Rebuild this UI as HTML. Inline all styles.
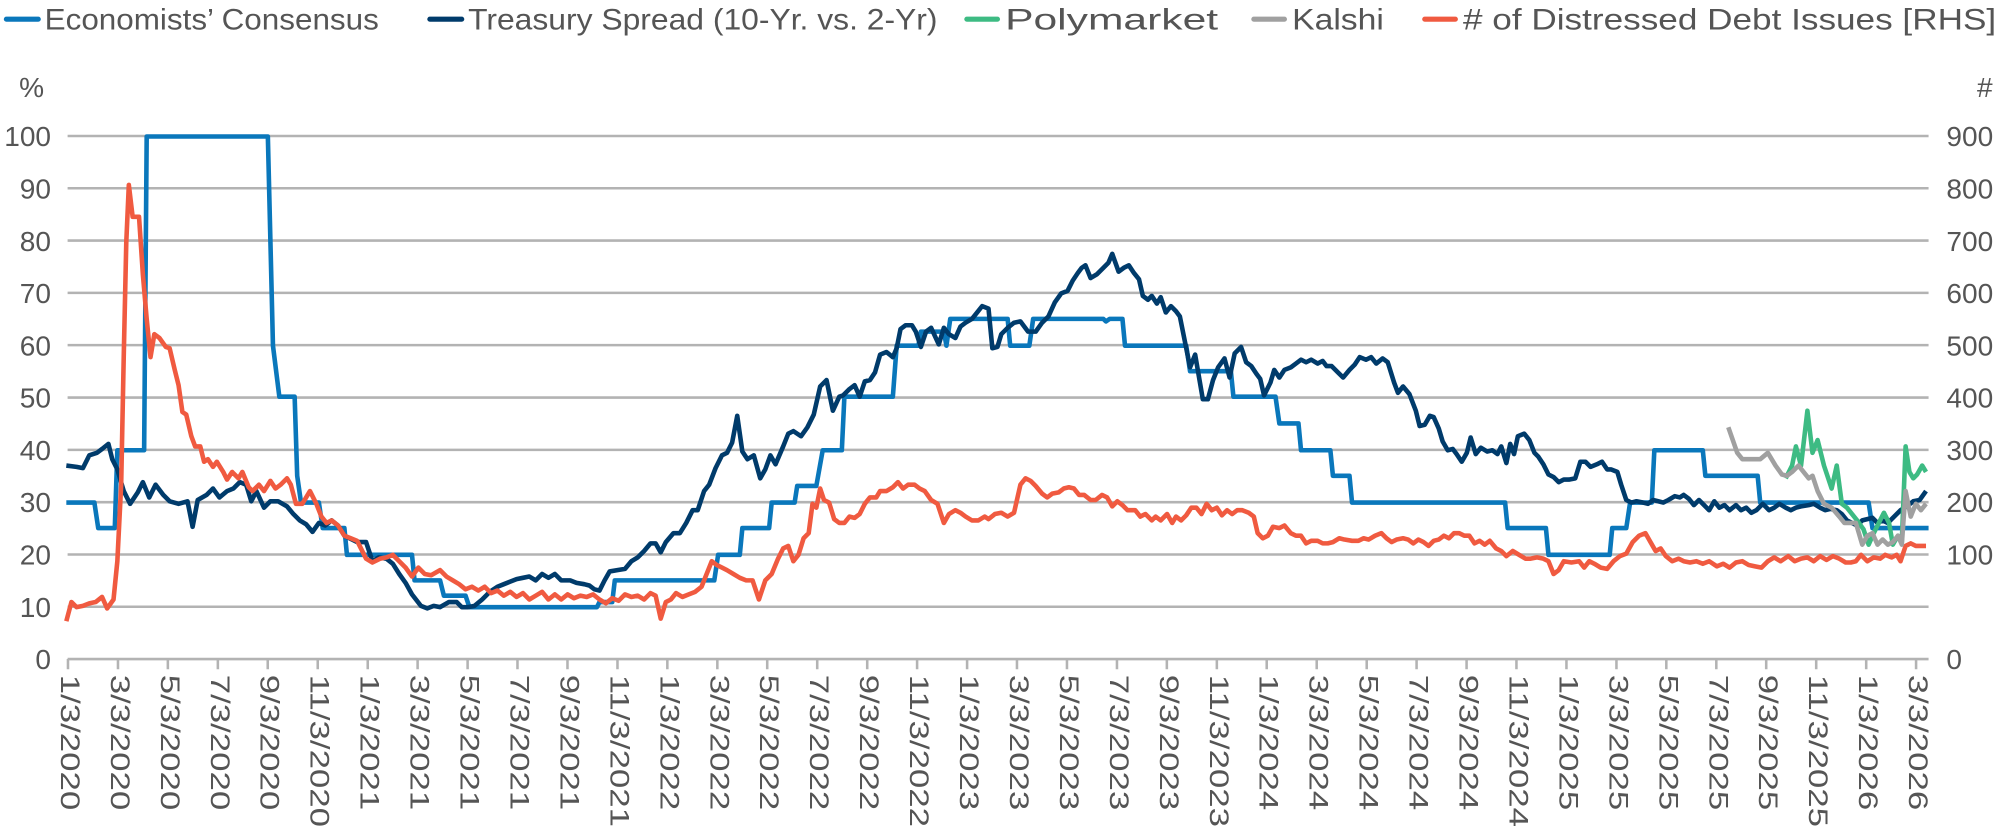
<!DOCTYPE html>
<html><head><meta charset="utf-8"><style>
html,body{margin:0;padding:0;background:#fff;}
svg{display:block;}
text{font-family:"Liberation Sans",sans-serif;fill:#555;}
</style></head><body>
<svg width="2000" height="837" viewBox="0 0 1568 656.2" xmlns="http://www.w3.org/2000/svg">
<g font-size="23">
<line x1="5" y1="15" x2="30" y2="15" stroke="#0a77bb" stroke-width="4" stroke-linecap="round"/><text x="35" y="23" textLength="262" lengthAdjust="spacingAndGlyphs">Economists’ Consensus</text>
<line x1="337" y1="15" x2="362" y2="15" stroke="#003b6b" stroke-width="4" stroke-linecap="round"/><text x="367" y="23" textLength="368" lengthAdjust="spacingAndGlyphs">Treasury Spread (10-Yr. vs. 2-Yr)</text>
<line x1="758" y1="15" x2="782" y2="15" stroke="#3dbb83" stroke-width="4" stroke-linecap="round"/><text x="788" y="23" textLength="167" lengthAdjust="spacingAndGlyphs">Polymarket</text>
<line x1="983" y1="15" x2="1007" y2="15" stroke="#a0a0a0" stroke-width="4" stroke-linecap="round"/><text x="1013" y="23" textLength="72" lengthAdjust="spacingAndGlyphs">Kalshi</text>
<line x1="1117" y1="15" x2="1141" y2="15" stroke="#f05a40" stroke-width="4" stroke-linecap="round"/><text x="1147" y="23" textLength="418" lengthAdjust="spacingAndGlyphs"># of Distressed Debt Issues [RHS]</text>
</g>
<g font-size="22">
<text x="15" y="76">%</text><text x="1550" y="76">#</text>
<g text-anchor="end">
<text x="40" y="114.6">100</text><text x="40" y="155.6">90</text><text x="40" y="196.6">80</text><text x="40" y="237.6">70</text><text x="40" y="278.6">60</text><text x="40" y="319.6">50</text><text x="40" y="360.6">40</text><text x="40" y="401.6">30</text><text x="40" y="442.6">20</text><text x="40" y="483.6">10</text><text x="40" y="524.6">0</text>
</g>
<text x="1526" y="114.6">900</text><text x="1526" y="155.6">800</text><text x="1526" y="196.6">700</text><text x="1526" y="237.6">600</text><text x="1526" y="278.6">500</text><text x="1526" y="319.6">400</text><text x="1526" y="360.6">300</text><text x="1526" y="401.6">200</text><text x="1526" y="442.6">100</text><text x="1526" y="524.6">0</text>
</g>
<g stroke="#b3b3b3" stroke-width="2">
<line x1="53" y1="106.6" x2="1512" y2="106.6"/><line x1="53" y1="147.6" x2="1512" y2="147.6"/><line x1="53" y1="188.6" x2="1512" y2="188.6"/><line x1="53" y1="229.6" x2="1512" y2="229.6"/><line x1="53" y1="270.6" x2="1512" y2="270.6"/><line x1="53" y1="311.7" x2="1512" y2="311.7"/><line x1="53" y1="352.7" x2="1512" y2="352.7"/><line x1="53" y1="393.7" x2="1512" y2="393.7"/><line x1="53" y1="434.7" x2="1512" y2="434.7"/><line x1="53" y1="475.7" x2="1512" y2="475.7"/><line x1="53" y1="516.7" x2="1512" y2="516.7"/>
</g>
<path stroke="#b3b3b3" stroke-width="2" fill="none" d="M53.3 516.7v8M92.5 516.7v8M131.6 516.7v8M170.8 516.7v8M209.9 516.7v8M249.1 516.7v8M288.3 516.7v8M327.4 516.7v8M366.6 516.7v8M405.7 516.7v8M444.9 516.7v8M484.1 516.7v8M523.2 516.7v8M562.4 516.7v8M601.5 516.7v8M640.7 516.7v8M679.9 516.7v8M719 516.7v8M758.2 516.7v8M797.3 516.7v8M836.5 516.7v8M875.7 516.7v8M914.8 516.7v8M954 516.7v8M993.1 516.7v8M1032.3 516.7v8M1071.5 516.7v8M1110.6 516.7v8M1149.8 516.7v8M1188.9 516.7v8M1228.1 516.7v8M1267.3 516.7v8M1306.4 516.7v8M1345.6 516.7v8M1384.7 516.7v8M1423.9 516.7v8M1463.1 516.7v8M1502.2 516.7v8"/>
<g font-size="21" dominant-baseline="middle">
<text transform="translate(53.3,529) rotate(90) scale(1.3,1)">1/3/2020</text>
<text transform="translate(92.5,529) rotate(90) scale(1.3,1)">3/3/2020</text>
<text transform="translate(131.6,529) rotate(90) scale(1.3,1)">5/3/2020</text>
<text transform="translate(170.8,529) rotate(90) scale(1.3,1)">7/3/2020</text>
<text transform="translate(209.9,529) rotate(90) scale(1.3,1)">9/3/2020</text>
<text transform="translate(249.1,529) rotate(90) scale(1.3,1)">11/3/2020</text>
<text transform="translate(288.3,529) rotate(90) scale(1.3,1)">1/3/2021</text>
<text transform="translate(327.4,529) rotate(90) scale(1.3,1)">3/3/2021</text>
<text transform="translate(366.6,529) rotate(90) scale(1.3,1)">5/3/2021</text>
<text transform="translate(405.7,529) rotate(90) scale(1.3,1)">7/3/2021</text>
<text transform="translate(444.9,529) rotate(90) scale(1.3,1)">9/3/2021</text>
<text transform="translate(484.1,529) rotate(90) scale(1.3,1)">11/3/2021</text>
<text transform="translate(523.2,529) rotate(90) scale(1.3,1)">1/3/2022</text>
<text transform="translate(562.4,529) rotate(90) scale(1.3,1)">3/3/2022</text>
<text transform="translate(601.5,529) rotate(90) scale(1.3,1)">5/3/2022</text>
<text transform="translate(640.7,529) rotate(90) scale(1.3,1)">7/3/2022</text>
<text transform="translate(679.9,529) rotate(90) scale(1.3,1)">9/3/2022</text>
<text transform="translate(719,529) rotate(90) scale(1.3,1)">11/3/2022</text>
<text transform="translate(758.2,529) rotate(90) scale(1.3,1)">1/3/2023</text>
<text transform="translate(797.3,529) rotate(90) scale(1.3,1)">3/3/2023</text>
<text transform="translate(836.5,529) rotate(90) scale(1.3,1)">5/3/2023</text>
<text transform="translate(875.7,529) rotate(90) scale(1.3,1)">7/3/2023</text>
<text transform="translate(914.8,529) rotate(90) scale(1.3,1)">9/3/2023</text>
<text transform="translate(954,529) rotate(90) scale(1.3,1)">11/3/2023</text>
<text transform="translate(993.1,529) rotate(90) scale(1.3,1)">1/3/2024</text>
<text transform="translate(1032.3,529) rotate(90) scale(1.3,1)">3/3/2024</text>
<text transform="translate(1071.5,529) rotate(90) scale(1.3,1)">5/3/2024</text>
<text transform="translate(1110.6,529) rotate(90) scale(1.3,1)">7/3/2024</text>
<text transform="translate(1149.8,529) rotate(90) scale(1.3,1)">9/3/2024</text>
<text transform="translate(1188.9,529) rotate(90) scale(1.3,1)">11/3/2024</text>
<text transform="translate(1228.1,529) rotate(90) scale(1.3,1)">1/3/2025</text>
<text transform="translate(1267.3,529) rotate(90) scale(1.3,1)">3/3/2025</text>
<text transform="translate(1306.4,529) rotate(90) scale(1.3,1)">5/3/2025</text>
<text transform="translate(1345.6,529) rotate(90) scale(1.3,1)">7/3/2025</text>
<text transform="translate(1384.7,529) rotate(90) scale(1.3,1)">9/3/2025</text>
<text transform="translate(1423.9,529) rotate(90) scale(1.3,1)">11/3/2025</text>
<text transform="translate(1463.1,529) rotate(90) scale(1.3,1)">1/3/2026</text>
<text transform="translate(1502.2,529) rotate(90) scale(1.3,1)">3/3/2026</text>
</g>
<g fill="none" stroke-width="3.6" stroke-linejoin="round">
<polyline stroke="#0a77bb" points="52,394 74,394 77,414 90,414 92,353 113,353 115,107 210,107 214,271 219,311 231,311 233,373 236,394 250,394 253,414 270,414 272,435 323,435 325,455 345,455 348,467 365,467 368,476 468,476 470,472 480,472 482,455 560,455 563,435 580,435 582,414 603,414 605,394 623,394 625,381 640,381 645,353 660,353 662,311 700,311 703,271 720,271 722,260 740,260 742,271 745,250 790,250 792,271 807,271 810,250 865,250 867,252 870,250 880,250 882,271 930,271 933,291 965,291 967,311 1000,311 1003,332 1018,332 1020,353 1043,353 1045,373 1058,373 1060,394 1180,394 1182,414 1212,414 1214,435 1262,435 1264,414 1275,414 1278,394 1295,394 1297,353 1335,353 1337,373 1378,373 1380,394 1465,394 1468,414 1512,414"/>
<polyline stroke="#003b6b" points="52,365 60,366 65,367 70,357 76,355 80,352 85,348 88,360 92,368 97,385 102,395 108,386 112,378 117,390 122,380 128,388 133,393 140,395 147,393 151,413 155,392 162,388 167,383 172,390 178,385 183,383 188,378 193,380 197,393 201,385 207,398 212,393 218,393 225,397 230,403 235,408 240,411 245,417 250,410 255,412 260,408 265,412 270,420 280,425 287,425 292,440 297,437 303,438 308,442 313,450 318,457 323,466 330,475 335,477 340,475 345,476 352,472 358,472 362,476 367,476 372,475 378,470 384,464 390,460 395,458 400,456 405,454 410,453 415,452 420,455 425,450 430,453 435,450 440,455 447,455 452,457 458,458 462,459 466,462 470,463 474,455 478,448 484,447 490,446 495,440 500,437 505,432 510,426 514,426 518,433 522,425 528,418 533,418 538,410 543,400 547,400 552,385 556,380 561,367 566,357 570,355 574,347 578,326 582,354 586,360 591,357 596,375 600,368 604,357 608,364 614,350 618,340 622,338 628,342 633,335 638,325 643,303 648,298 653,322 658,311 661,310 666,305 670,302 674,311 678,299 682,298 686,292 690,278 695,276 700,280 703,273 706,258 710,255 715,255 718,260 722,272 726,260 730,257 736,270 740,257 744,262 749,265 753,256 757,253 762,250 766,245 770,240 775,242 778,273 782,272 785,262 790,257 795,253 800,252 806,260 812,260 817,253 822,248 827,237 832,230 837,228 841,220 845,214 848,210 851,208 855,218 860,215 865,210 869,206 872,199 877,213 881,210 885,208 889,214 893,219 896,232 900,235 903,232 907,238 910,233 914,245 918,240 922,244 925,248 929,268 933,288 937,278 943,313 947,313 951,298 955,288 960,281 964,296 968,277 973,272 977,284 981,287 985,293 988,297 991,310 996,300 999,290 1003,296 1007,290 1012,288 1016,285 1020,282 1024,284 1028,282 1033,285 1037,283 1040,287 1044,287 1049,292 1053,296 1058,290 1062,286 1066,280 1071,282 1075,280 1079,285 1084,281 1088,284 1093,300 1096,308 1100,303 1105,309 1110,322 1113,334 1117,333 1121,326 1124,327 1128,336 1131,346 1135,353 1139,352 1142,356 1146,362 1150,355 1153,343 1157,356 1161,351 1166,354 1170,353 1174,356 1177,350 1181,363 1184,348 1187,356 1190,342 1195,340 1199,345 1203,355 1206,358 1210,364 1214,372 1218,374 1222,378 1226,376 1230,376 1235,375 1239,362 1243,362 1247,366 1252,364 1256,362 1260,368 1263,368 1268,370 1271,380 1275,392 1279,394 1283,393 1288,394 1292,395 1296,392 1300,393 1304,394 1308,392 1313,389 1317,390 1320,388 1324,391 1328,396 1332,392 1336,396 1340,400 1344,393 1348,398 1352,396 1356,400 1361,396 1365,400 1369,398 1373,402 1377,400 1382,395 1387,400 1391,398 1395,395 1400,398 1404,400 1408,398 1412,397 1418,396 1422,395 1427,398 1431,400 1435,399 1440,400 1444,403 1448,408 1452,410 1456,412 1460,408 1464,407 1468,406 1472,410 1476,408 1480,410 1485,405 1490,400 1495,397 1500,393 1505,392 1510,385"/>
<polyline stroke="#f05a40" points="52,487 56,472 60,476 65,475 70,473 75,472 80,468 84,477 89,470 92,440 95,380 97,280 99,190 101,145 104,170 107,170 109,170 112,215 115,250 118,280 121,262 125,265 130,272 133,273 137,290 140,302 143,323 146,325 150,342 153,350 157,350 160,362 163,360 167,366 170,362 175,370 178,376 182,370 187,375 190,370 195,382 198,385 203,380 207,385 212,377 216,383 220,380 225,375 228,380 232,395 237,395 243,385 248,395 252,405 256,410 260,408 265,412 270,420 275,422 280,424 287,438 292,441 298,438 303,437 308,435 313,440 318,445 323,452 328,445 333,450 338,451 345,447 350,452 355,455 360,458 365,462 370,460 375,463 380,460 385,465 390,463 395,467 400,464 405,468 410,465 415,470 420,467 425,464 430,470 435,466 440,470 445,466 450,469 455,467 460,468 465,466 470,470 475,473 480,469 485,471 490,466 495,468 500,467 505,470 510,465 514,467 518,485 522,472 526,470 530,465 535,468 540,466 545,464 550,460 554,450 558,440 562,443 566,445 570,447 575,450 580,453 585,455 590,455 595,470 600,455 605,450 610,438 614,430 618,428 622,440 626,435 630,422 634,418 637,395 640,398 643,383 646,392 650,394 654,407 658,410 662,410 666,405 670,406 674,403 678,395 682,390 687,390 690,385 695,385 700,382 704,378 708,383 712,380 717,380 721,383 725,385 730,392 735,395 740,410 744,403 749,400 753,402 757,405 762,408 767,408 772,405 775,407 780,403 785,402 790,405 795,402 800,380 804,375 808,377 812,381 817,387 821,390 825,387 830,386 834,383 838,382 842,383 846,388 850,388 855,392 859,392 864,388 868,390 872,397 876,393 880,396 884,400 890,400 894,405 898,403 903,408 906,405 910,408 915,403 919,410 922,405 926,408 930,404 934,398 938,398 942,403 946,395 950,400 954,398 958,404 962,400 966,403 970,400 974,400 979,402 983,405 986,418 990,422 994,420 998,413 1003,414 1007,412 1012,418 1016,420 1020,420 1024,426 1028,424 1033,424 1037,426 1041,426 1045,425 1050,422 1054,423 1060,424 1065,424 1069,422 1073,423 1078,420 1083,418 1087,422 1091,425 1095,423 1100,422 1104,423 1108,426 1112,423 1116,425 1120,428 1124,424 1128,423 1132,420 1136,422 1140,418 1144,418 1148,420 1152,420 1156,426 1160,424 1164,427 1168,424 1173,430 1177,432 1181,436 1186,432 1191,435 1196,438 1200,438 1205,437 1210,438 1214,440 1218,450 1222,447 1226,440 1232,441 1238,440 1242,445 1246,440 1250,442 1255,445 1260,446 1265,440 1270,436 1275,434 1280,425 1285,420 1290,418 1294,425 1298,432 1302,430 1306,436 1311,440 1316,438 1320,440 1325,441 1330,440 1335,442 1340,440 1346,444 1351,442 1356,445 1361,441 1366,440 1371,443 1376,444 1381,445 1386,440 1391,437 1396,440 1402,436 1407,440 1412,438 1417,437 1422,440 1427,436 1432,439 1437,436 1442,438 1447,441 1451,441 1455,440 1459,435 1464,440 1469,437 1474,438 1478,435 1483,437 1487,435 1490,440 1494,428 1498,426 1502,428 1506,428 1510,428"/>
<polyline stroke="#3dbb83" points="1400,375 1405,365 1408,350 1412,365 1417,322 1421,355 1425,345 1430,365 1436,383 1440,365 1444,395 1448,398 1452,403 1456,408 1461,415 1465,427 1469,418 1473,410 1477,402 1481,410 1484,427 1488,420 1491,425 1494,350 1497,370 1500,375 1503,372 1507,365 1510,370"/>
<polyline stroke="#a0a0a0" points="1355,335 1362,355 1366,360 1373,360 1380,360 1386,355 1392,365 1397,372 1401,373 1405,370 1410,365 1414,370 1418,375 1421,373 1425,385 1430,395 1436,398 1442,405 1446,410 1450,410 1455,410 1460,427 1464,420 1468,418 1472,427 1476,423 1480,427 1484,425 1488,420 1491,427 1494,385 1498,405 1502,395 1506,400 1510,395"/>
</g>
</svg>
</body></html>
